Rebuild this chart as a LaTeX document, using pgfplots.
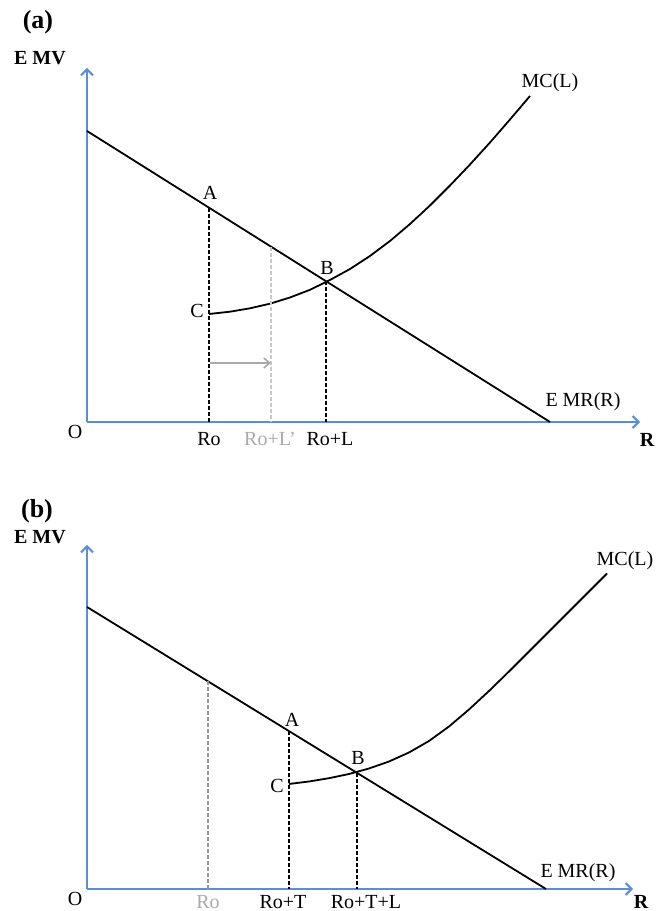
\documentclass[border=0pt]{standalone}
\usepackage{fontspec}
\setmainfont{Liberation Serif}
\usepackage{pgfplots}
\pgfplotsset{compat=1.18}
\usetikzlibrary{arrows.meta}

\definecolor{axblue}{RGB}{91,142,214}
\definecolor{lgray}{RGB}{200,200,200}
\definecolor{mgray}{RGB}{150,150,150}
\definecolor{tgray}{RGB}{170,170,170}

% one axis unit = one pixel of the reference (0.5pt), y counted up from the page bottom
\pgfplotsset{
  diagram/.style={
    scale only axis, anchor=south west, clip=false,
    axis lines=left, xtick=\empty, ytick=\empty,
    axis line style={draw=axblue, line width=1pt},
    every outer x axis line/.append style={-{Straight Barb[length=3pt,width=6pt]}},
    every outer y axis line/.append style={-{Straight Barb[length=3pt,width=6pt]}},
  },
  curve/.style={black, line width=0.9pt, no markers, line join=round},
  drop/.style={black, line width=1.4pt, dash pattern=on 2pt off 1pt, no markers},
}

\begin{document}
\begin{tikzpicture}
\useasboundingbox (0,0) rectangle (328pt,455.5pt);

% ---------- (a) ----------
\begin{axis}[diagram, at={(43.5pt,244.5pt)}, width=276.5pt, height=177pt,
  xmin=87, xmax=640, ymin=489, ymax=843]
\addplot[curve] coordinates {(87,780) (550,489)};
\addplot[curve] coordinates {(209,597) (230,599.3) (250,602.7) (270,607.3) (290,613.5)
  (310,621.2) (330,631) (350,642) (370,655) (390,670) (410,687) (430,705.5)
  (450,725.5) (470,746.5) (490,768.5) (510,791.5) (530,815)};
\addplot[drop] coordinates {(209,703) (209,489)};
\addplot[lgray, line width=1pt, dash pattern=on 2pt off 1pt, no markers] coordinates {(271,664) (271,489)};
\addplot[drop] coordinates {(326,630) (326,489)};
\addplot[tgray, line width=0.8pt, no markers, -{Straight Barb[length=3pt,width=5pt]}] coordinates {(210,548) (271,548)};

\node[font=\fontsize{13}{15}\selectfont\bfseries] at (axis cs:38,889) {(a)};
\node[font=\bfseries] at (axis cs:40,853) {E MV};
\node at (axis cs:550,828) {MC(L)};
\node at (axis cs:583,509) {E MR(R)};
\node at (axis cs:210,718) {A};
\node at (axis cs:327,643) {B};
\node at (axis cs:197,600) {C};
\node at (axis cs:75,479) {O};
\node at (axis cs:209,472) {Ro};
\node[text=tgray] at (axis cs:270,472) {Ro+L’};
\node at (axis cs:330,472) {Ro+L};
\node[font=\bfseries] at (axis cs:647,471) {R};
\end{axis}

% ---------- (b) ----------
\begin{axis}[diagram, at={(43.5pt,11pt)}, width=273pt, height=172pt,
  xmin=87, xmax=633, ymin=22, ymax=366]
\addplot[curve] coordinates {(87,304) (546,22)};
\addplot[curve] coordinates {(289,127) (309,129.5) (329,132.8) (349,137) (369,142.5)
  (389,149.5) (409,158.5) (429,170) (449,184.5) (469,201.5) (489,220) (509,239.5)
  (529,259.5) (549,279.5) (569,299.5) (589,319.5) (607,337.5)};
\addplot[mgray, line width=1pt, dash pattern=on 2pt off 1pt, no markers] coordinates {(208,230) (208,22)};
\addplot[drop] coordinates {(289,180) (289,22)};
\addplot[drop] coordinates {(357,138) (357,22)};

\node[font=\fontsize{13}{15}\selectfont\bfseries] at (axis cs:37,400) {(b)};
\node[font=\bfseries] at (axis cs:40,374) {E MV};
\node at (axis cs:625,350) {MC(L)};
\node at (axis cs:578,38) {E MR(R)};
\node at (axis cs:292,191) {A};
\node at (axis cs:358,153) {B};
\node at (axis cs:277,125) {C};
\node at (axis cs:75,12) {O};
\node[text=tgray] at (axis cs:208,9) {Ro};
\node at (axis cs:283,9) {Ro+T};
\node at (axis cs:366,9) {Ro+T+L};
\node[font=\bfseries] at (axis cs:641,9) {R};
\end{axis}
\end{tikzpicture}
\end{document}
